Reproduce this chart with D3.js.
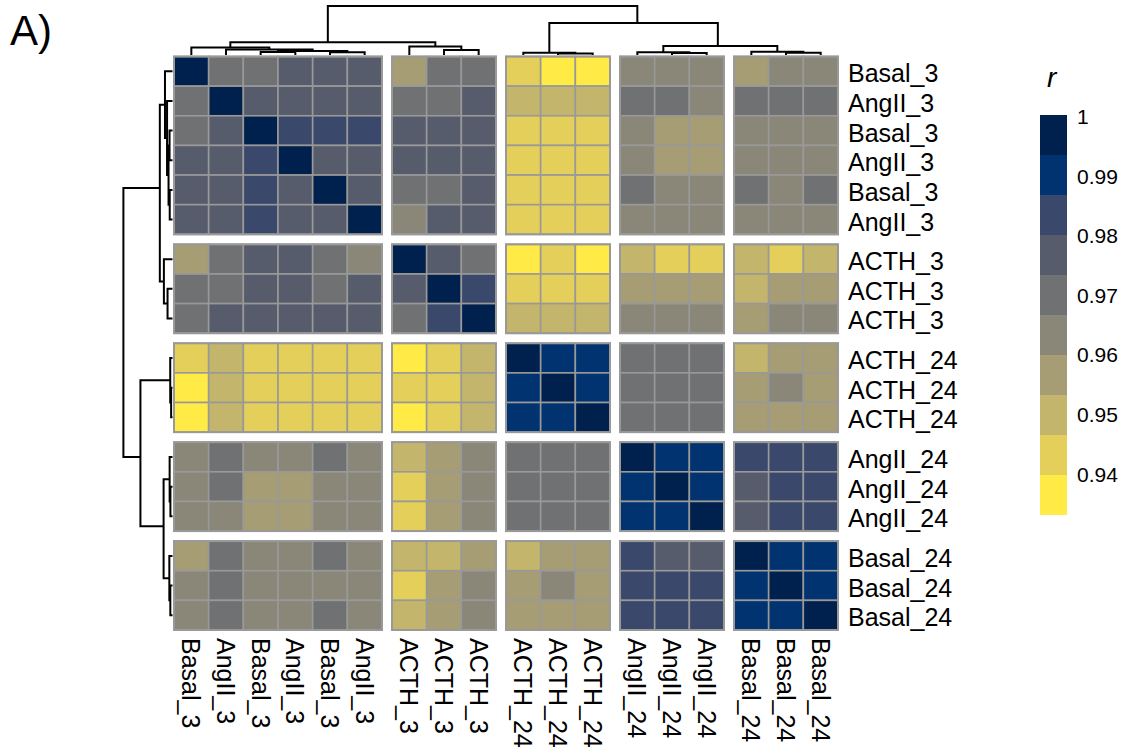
<!DOCTYPE html>
<html>
<head>
<meta charset="utf-8">
<script src="https://cdn.jsdelivr.net/npm/d3@7"></script>
<style>
  html, body { margin: 0; padding: 0; background: #fff; }
  text { font-family: "Liberation Sans", Arial, Helvetica, sans-serif; fill: #000; }
</style>
</head>
<body>
<svg id="chart" width="1133" height="751"></svg>
<script>
// Sample labels, in clustered order (rows and columns share the order)
const samples = [
  "Basal_3", "AngII_3", "Basal_3", "AngII_3", "Basal_3", "AngII_3",
  "ACTH_3", "ACTH_3", "ACTH_3",
  "ACTH_24", "ACTH_24", "ACTH_24",
  "AngII_24", "AngII_24", "AngII_24",
  "Basal_24", "Basal_24", "Basal_24"
];
// Cluster slice of each sample
const sliceOf = [1, 1, 1, 1, 1, 1, 2, 2, 2, 3, 3, 3, 4, 4, 4, 5, 5, 5];

// Pearson correlation between samples (row i, column j)
const corr = [
  [1, .970, .970, .977, .977, .977, .956, .970, .970, .943, .936, .936, .963, .963, .963, .956, .963, .963],
  [.970, 1, .977, .977, .977, .977, .970, .970, .977, .950, .950, .950, .970, .970, .963, .970, .970, .970],
  [.970, .977, 1, .983, .983, .983, .977, .977, .977, .943, .943, .943, .963, .956, .956, .963, .963, .963],
  [.977, .977, .983, 1, .977, .977, .977, .977, .977, .943, .943, .943, .963, .956, .956, .963, .963, .963],
  [.977, .977, .983, .977, 1, .977, .970, .970, .977, .943, .943, .943, .970, .963, .963, .970, .963, .970],
  [.977, .977, .983, .977, .977, 1, .963, .977, .977, .943, .943, .943, .963, .963, .963, .963, .963, .963],
  [.956, .970, .977, .977, .970, .963, 1, .977, .970, .936, .943, .936, .950, .943, .943, .950, .943, .950],
  [.970, .970, .977, .977, .970, .977, .977, 1, .983, .943, .943, .943, .956, .956, .956, .950, .956, .956],
  [.970, .977, .977, .977, .977, .977, .970, .983, 1, .950, .950, .950, .963, .963, .963, .956, .963, .963],
  [.943, .950, .943, .943, .943, .943, .936, .943, .950, 1, .990, .990, .970, .970, .970, .950, .956, .956],
  [.936, .950, .943, .943, .943, .943, .943, .943, .950, .990, 1, .990, .970, .970, .970, .956, .963, .956],
  [.936, .950, .943, .943, .943, .943, .936, .943, .950, .990, .990, 1, .970, .970, .970, .956, .956, .956],
  [.963, .970, .963, .963, .970, .963, .950, .956, .963, .970, .970, .970, 1, .990, .990, .983, .983, .983],
  [.963, .970, .956, .956, .963, .963, .943, .956, .963, .970, .970, .970, .990, 1, .990, .977, .983, .983],
  [.963, .963, .956, .956, .963, .963, .943, .956, .963, .970, .970, .970, .990, .990, 1, .977, .983, .983],
  [.956, .970, .963, .963, .970, .963, .950, .950, .956, .950, .956, .956, .983, .977, .977, 1, .990, .990],
  [.963, .970, .963, .963, .963, .963, .943, .956, .963, .956, .963, .956, .983, .983, .983, .990, 1, .990],
  [.963, .970, .963, .963, .970, .963, .950, .956, .963, .956, .956, .956, .983, .983, .983, .990, .990, 1]
];

// Hierarchical clustering merges (hclust style: negative = leaf, positive = earlier merge), with heights
const mergeLeft  = [-3, -5, 1, -2, -1, -8, -7, 5, -11, -10, -14, -13, -17, -16, 12, 10, 8];
const mergeRight = [-4, -6, 2,  3,  4, -9,  6, 7, -12,   9, -15,  11, -18,  13, 14, 15, 16];
const mergeHeight = [0.060, 0.056, 0.080, 0.110, 0.152, 0.100, 0.174, 0.256,
                     0.028, 0.046, 0.042, 0.058, 0.044, 0.064, 0.180, 0.648, 0.992];

// Legend ticks and colour range
const legendTicks = [0.94, 0.95, 0.96, 0.97, 0.98, 0.99, 1];
const legendTickLabels = ["0.94", "0.95", "0.96", "0.97", "0.98", "0.99", "1"];
const valueRange = [0.9329, 1.0];

// cividis, 10 steps (low -> high)
const cividis10 = ["#FFEA46", "#E4CF5B", "#C4B56C", "#A69D75", "#8A8779",
                   "#707173", "#575C6D", "#39486B", "#00336F", "#00204D"];

const svg = d3.select("#chart");
const n = samples.length;

// ---- geometry of the heatmap body ----
const hm = { left: 174, right: 838, top: 56.5, bottom: 630, gap: 10 };
const slices = d3.groups(d3.range(n), i => sliceOf[i]).map(([s, idx]) => idx);

function sliceBands(start, end) {
  const cell = (end - start - hm.gap * (slices.length - 1)) / n;
  let pos = start;
  return slices.map(idx => {
    const sc = d3.scaleBand().domain(idx).range([pos, pos + cell * idx.length]).padding(0);
    pos += cell * idx.length + hm.gap;
    return sc;
  });
}
const colBands = sliceBands(hm.left, hm.right);
const rowBands = sliceBands(hm.top, hm.bottom);
const bandOf = i => sliceOf[i] - 1;
const colX = i => colBands[bandOf(i)](i);
const rowY = i => rowBands[bandOf(i)](i);
const cw = colBands[0].bandwidth();
const rh = rowBands[0].bandwidth();

const color = d3.scaleQuantize().domain(valueRange).range(cividis10);

// ---- cells ----
const cells = [];
corr.forEach((row, i) => row.forEach((v, j) => cells.push({ i, j, v })));

const body = svg.append("g").attr("class", "body");
body.selectAll("rect.cell").data(cells).join("rect")
  .attr("class", "cell")
  .attr("x", d => colX(d.j))
  .attr("y", d => rowY(d.i))
  .attr("width", cw)
  .attr("height", rh)
  .attr("fill", d => color(d.v))
  .attr("stroke", "#999999")
  .attr("stroke-width", 1.6);

// slice borders
const blocks = [];
rowBands.forEach(rb => colBands.forEach(cb => blocks.push({ rb, cb })));
body.selectAll("rect.block").data(blocks).join("rect")
  .attr("class", "block")
  .attr("x", d => d.cb.range()[0])
  .attr("y", d => d.rb.range()[0])
  .attr("width", d => d.cb.range()[1] - d.cb.range()[0])
  .attr("height", d => d.rb.range()[1] - d.rb.range()[0])
  .attr("fill", "none")
  .attr("stroke", "#999999")
  .attr("stroke-width", 2);

// ---- dendrograms ----
// Node position in leaf-index units; converted to pixels between neighbouring leaf centres
function buildNodes() {
  const nodes = [];
  const get = k => k < 0 ? { idx: -k - 1, h: 0 } : nodes[k - 1];
  mergeLeft.forEach((a, m) => {
    const A = get(a), B = get(mergeRight[m]);
    nodes.push({ idx: (A.idx + B.idx) / 2, h: mergeHeight[m], a: A, b: B });
  });
  return nodes;
}
const nodes = buildNodes();

function indexToPixel(centers, t) {
  const lo = Math.floor(t), hi = Math.ceil(t);
  return centers[lo] + (t - lo) * (centers[hi] - centers[lo]);
}

const colCenters = d3.range(n).map(i => colX(i) + cw / 2);
const rowCenters = d3.range(n).map(i => rowY(i) + rh / 2);
const hMax = d3.max(mergeHeight);

// top (column) dendrogram
const yH = d3.scaleLinear().domain([0, hMax]).range([55, 5.9]);
svg.append("g").selectAll("path").data(nodes).join("path")
  .attr("fill", "none").attr("stroke", "#000").attr("stroke-width", 2)
  .attr("d", d => {
    const xa = indexToPixel(colCenters, d.a.idx), xb = indexToPixel(colCenters, d.b.idx);
    return `M${xa},${yH(d.a.h)}V${yH(d.h)}H${xb}V${yH(d.b.h)}`;
  });

// left (row) dendrogram
const xH = d3.scaleLinear().domain([0, hMax]).range([172.5, 123.4]);
svg.append("g").selectAll("path").data(nodes).join("path")
  .attr("fill", "none").attr("stroke", "#000").attr("stroke-width", 2)
  .attr("d", d => {
    const ya = indexToPixel(rowCenters, d.a.idx), yb = indexToPixel(rowCenters, d.b.idx);
    return `M${xH(d.a.h)},${ya}H${xH(d.h)}V${yb}H${xH(d.b.h)}`;
  });

// ---- labels ----
svg.append("g").selectAll("text").data(samples).join("text")
  .attr("x", hm.right + 10)
  .attr("y", (d, i) => rowCenters[i] + 11)
  .attr("font-size", 25)
  .text(d => d);

svg.append("g").selectAll("text").data(samples).join("text")
  .attr("transform", (d, i) => `translate(${colCenters[i] - 9},${hm.bottom + 8}) rotate(90)`)
  .attr("font-size", 25)
  .text(d => d);

// panel tag
svg.append("text").attr("x", 10).attr("y", 45).attr("font-size", 42).text("A)");

// ---- legend ----
const leg = { x: 1040, w: 27, top: 115, bottom: 515 };
const yLeg = d3.scaleLinear().domain(valueRange).range([leg.bottom, leg.top]);
const lg = svg.append("g");
lg.selectAll("rect").data(color.range()).join("rect")
  .attr("x", leg.x)
  .attr("y", c => yLeg(color.invertExtent(c)[1]))
  .attr("width", leg.w)
  .attr("height", c => yLeg(color.invertExtent(c)[0]) - yLeg(color.invertExtent(c)[1]))
  .attr("fill", c => c)
  .attr("shape-rendering", "crispEdges");
lg.selectAll("text.tick").data(legendTicks).join("text")
  .attr("class", "tick")
  .attr("x", leg.x + leg.w + 10)
  .attr("y", v => yLeg(v) + 9)
  .attr("font-size", 21)
  .text((v, i) => legendTickLabels[i]);
lg.append("text")
  .attr("x", 1047).attr("y", 87)
  .attr("font-size", 28).attr("font-style", "italic")
  .text("r");
</script>
</body>
</html>
